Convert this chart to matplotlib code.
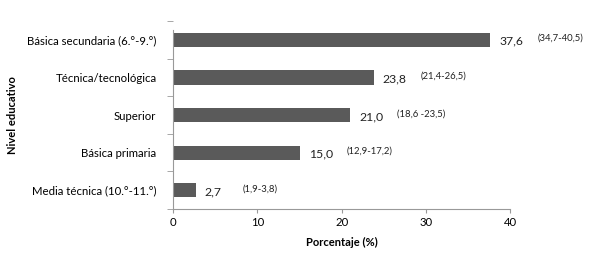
from matplotlib import pyplot as plt
import numpy as np

plt.rcParams['font.family'] = ['Lato', 'DejaVu Sans']

# Data (bottom to top as drawn)
categories = ["Media técnica (10.°-11.°)", "Básica primaria", "Superior",
              "Técnica/tecnológica", "Básica secundaria (6.°-9.°)"]
values = [2.7, 15.0, 21.0, 23.8, 37.6]
ci_labels = ["(1,9-3,8)", "(12,9-17,2)", "(18,6 -23,5)",
             "(21,4-26,5)", "(34,7-40,5)"]
x_ticks = [0, 10, 20, 30, 40]

fig = plt.figure(figsize=(6.01, 2.63), dpi=100)
ax = fig.add_axes([0.288, 0.205, 0.561, 0.715])

y = np.arange(len(categories))
ax.barh(y, values, height=0.38, color='#5a5a5a')

for yi, v, ci in zip(y, values, ci_labels):
    ax.annotate(("%.1f" % v).replace('.', ','), xy=(v, yi), xytext=(6.5, -1),
                textcoords='offset points', va='center', ha='left',
                fontsize=8.8, color='#222222')
    ax.annotate(ci, xy=(v, yi), xytext=(34, 1),
                textcoords='offset points', va='center', ha='left',
                fontsize=6.8, color='#222222')

ax.set_xlim(0, 40)
ax.set_ylim(-0.5, 4.5)
ax.set_xticks(x_ticks)
ax.set_xticklabels([str(t) for t in x_ticks], fontsize=8.2)
ax.set_yticks(y)
ax.set_yticklabels(categories, fontsize=8.2)
ax.set_yticks(np.arange(-0.5, 4.6, 1.0), minor=True)
ax.tick_params(axis='y', which='major', length=0, pad=12)
ax.tick_params(axis='y', which='minor', length=4, color='#999999')
ax.tick_params(axis='x', length=3, color='#999999', pad=3)

for s in ['top', 'right']:
    ax.spines[s].set_visible(False)
for s in ['left', 'bottom']:
    ax.spines[s].set_color('#999999')
ax.spines['left'].set_bounds(-0.5, 4.26)

ax.set_xlabel("Porcentaje (%)", fontsize=8, fontweight='bold', labelpad=6)
ax.set_ylabel("Nivel educativo", fontsize=8, fontweight='bold')
ax.yaxis.set_label_coords(-0.46, 0.5)

fig.savefig("out.png", dpi=100)
